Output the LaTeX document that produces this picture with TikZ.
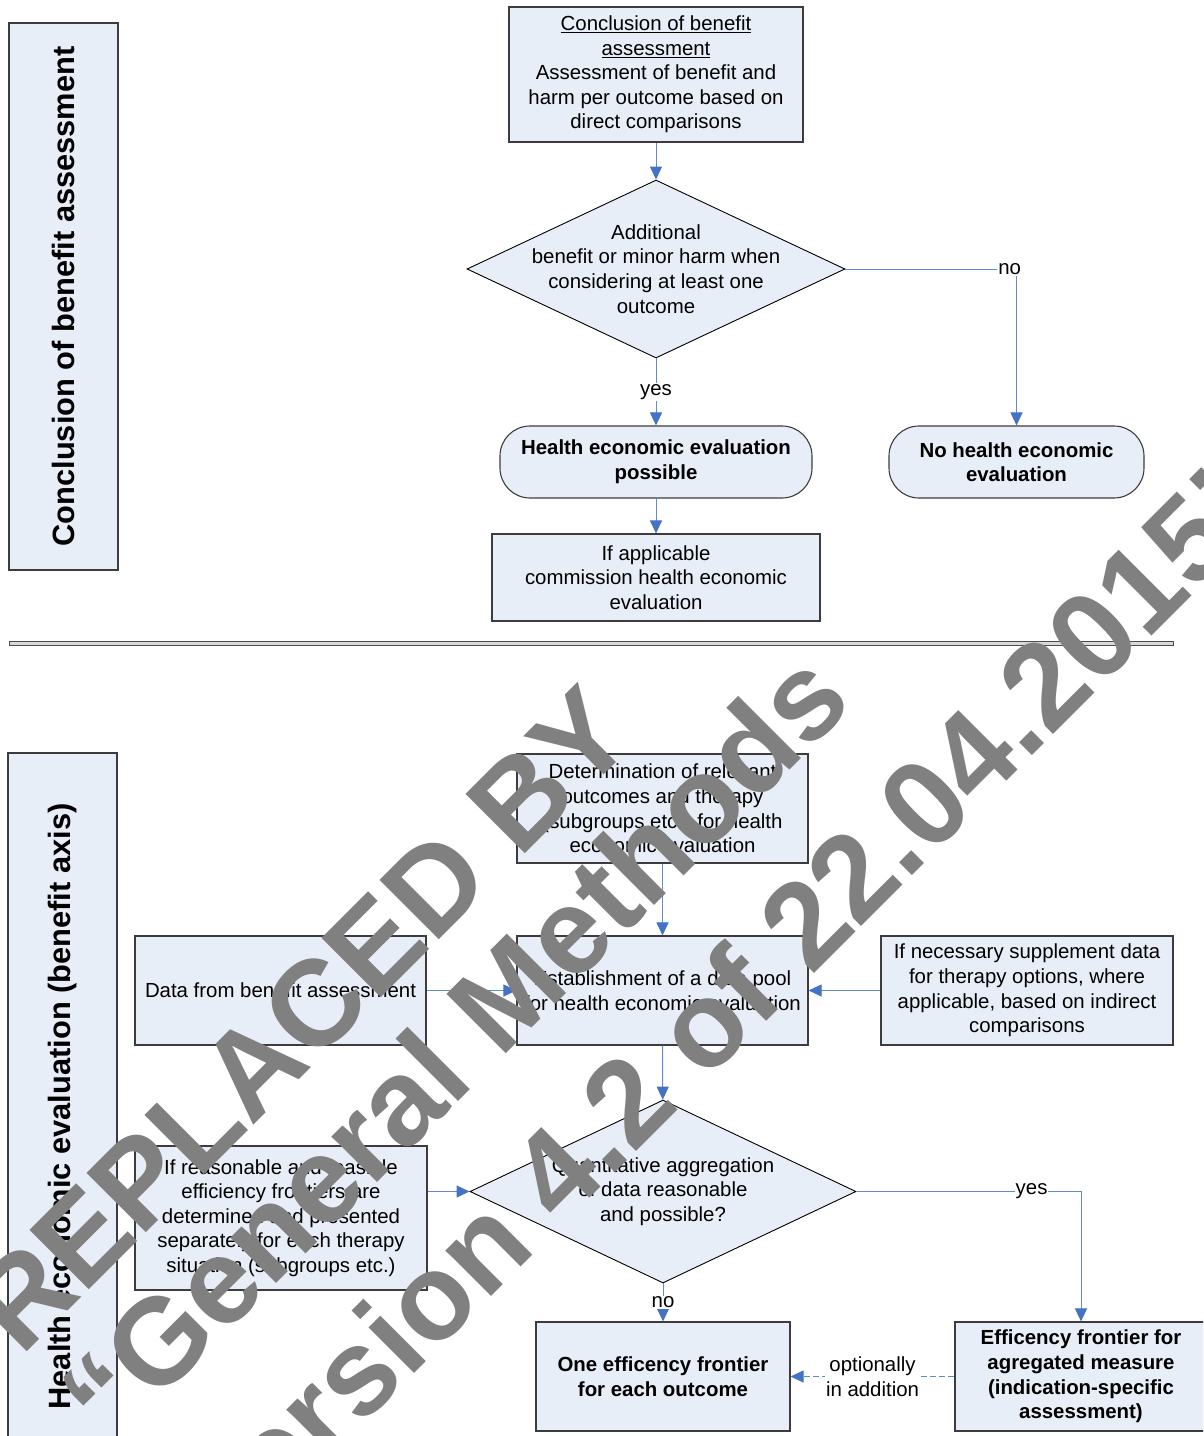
\documentclass[tikz,border=0pt]{standalone}
\usepackage{fontspec}
\setmainfont{Liberation Sans}
\usetikzlibrary{shapes.geometric,arrows.meta}
\definecolor{boxfill}{RGB}{232,238,247}
\definecolor{boxline}{RGB}{60,60,60}
\definecolor{flowline}{RGB}{98,139,206}
\definecolor{tipblue}{RGB}{68,114,196}
\definecolor{wmgray}{RGB}{128,128,128}
\tikzset{
  procbox/.style={rectangle,draw=boxline,fill=boxfill,line width=1.1pt,align=center,inner sep=0pt},
  roundbox/.style={procbox,rounded corners=30pt},
  decision/.style={diamond,draw=black,fill=boxfill,line width=0.9pt,inner sep=0pt},
  flow/.style={draw=flowline,line width=1pt,-{Triangle[length=13pt,width=12pt,color=tipblue]}},
  lbl/.style={fill=white,inner sep=1pt,align=center},
  sidelabel/.style={procbox,rotate=90,font=\fontsize{30.8}{36}\selectfont\bfseries},
  wmark/.style={rotate=45,anchor=base west,text=wmgray,inner sep=0pt,font=\fontsize{122}{128}\selectfont\bfseries}
}
\begin{document}
\begin{tikzpicture}[x=1pt,y=-1pt,font=\fontsize{20.4}{24.6}\selectfont]
  \useasboundingbox (0,0) rectangle (1203,1436);
  \clip (0,0) rectangle (1203,1436);

  \node[sidelabel,minimum width=547pt,minimum height=109pt] (side1) at (63.5,296.5) {Conclusion of benefit assessment};
  \node[sidelabel,minimum width=707pt,minimum height=109pt] (side2) at (62.5,1106.5) {Health economic evaluation (benefit axis)};
  \draw[draw=black!70,fill=black!15,line width=0.8pt] (9,641) rectangle (1173,645);

  \begin{scope}[every node/.style={procbox}]
    \node[minimum width=294pt,minimum height=135pt] (concl) at (656,74.5)
      {\underline{Conclusion of benefit}\\\underline{assessment}\\Assessment of benefit and\\harm per outcome based on\\direct comparisons};
    \node[minimum width=328pt,minimum height=87pt] (commission) at (656,577.5)
      {If applicable\\commission health economic\\evaluation};
    \node[minimum width=291pt,minimum height=109pt] (relevant) at (662.5,808.5)
      {Determination of relevant\\outcomes and therapy\\(subgroups etc.) for health\\economic evaluation};
    \node[minimum width=291pt,minimum height=109pt] (pool) at (662.5,990.5)
      {Establishment of a data pool\\for health economic evaluation};
    \node[minimum width=291pt,minimum height=109pt] (benefitdata) at (280.5,990.5)
      {Data from benefit assessment};
    \node[minimum width=292pt,minimum height=109pt] (indirect) at (1027,990.5)
      {If necessary supplement data\\for therapy options, where\\applicable, based on indirect\\comparisons};
    \node[minimum width=292pt,minimum height=144pt] (separate) at (281,1218)
      {If reasonable and feasible\\efficiency frontiers are\\determined and presented\\separately for each therapy\\situation (subgroups etc.)};
  \end{scope}

  \begin{scope}[every node/.style={procbox,font=\fontsize{20.4}{24.6}\selectfont\bfseries}]
    \node[roundbox,minimum width=312pt,minimum height=72pt] (hepossible) at (656,462)
      {Health economic evaluation\\possible};
    \node[roundbox,minimum width=255pt,minimum height=72pt] (nohe) at (1016.5,462)
      {No health economic\\evaluation};
    \node[minimum width=254pt,minimum height=109pt] (eachoutcome) at (663,1376.5)
      {One efficency frontier\\for each outcome};
    \node[minimum width=252pt,minimum height=109pt] (aggregated) at (1081,1376.5)
      {Efficency frontier for\\agregated measure\\(indication-specific\\assessment)};
  \end{scope}

  \node[decision,minimum width=378pt,minimum height=178pt] (addbenefit) at (656,269) {};
  \node[align=center] (addbenefittext) at (addbenefit)
    {Additional\\benefit or minor harm when\\considering at least one\\outcome};
  \node[decision,minimum width=386pt,minimum height=183pt] (aggregation) at (663,1191.5) {};
  \node[align=center] (aggregationtext) at (aggregation)
    {Quantitative aggregation\\of data reasonable\\and possible?};

  \draw[flow] (concl) -- (addbenefit);
  \draw[flow] (addbenefit) -- node[lbl] {yes} (hepossible);
  \draw[flow] (addbenefit.east) -| node[lbl,pos=0.48] {no} (nohe.north);
  \draw[flow] (hepossible) -- (commission);
  \draw[flow] (relevant) -- (pool);
  \draw[flow] (benefitdata) -- (pool);
  \draw[flow] (indirect) -- (pool);
  \draw[flow] (pool) -- (aggregation);
  \draw[flow] (aggregation.west -| separate.east) -- (aggregation.west);
  \draw[flow] (aggregation.east) -| node[lbl,pos=0.39] {yes} (aggregated.north);
  \draw[flow] (aggregation) -- node[lbl] {no} (eachoutcome);
  \draw[flow,dash pattern=on 6pt off 3pt] (aggregated) -- node[lbl] {optionally\\in addition} (eachoutcome);

  \node[wmark] (replaced) at (21,1358) {REPLACED BY};
  \node[wmark] (methods) at (112,1448) {“General Methods};
  \node[wmark] (version) at (226,1562) {Version 4.2 of 22.04.2015”};
\end{tikzpicture}
\end{document}
